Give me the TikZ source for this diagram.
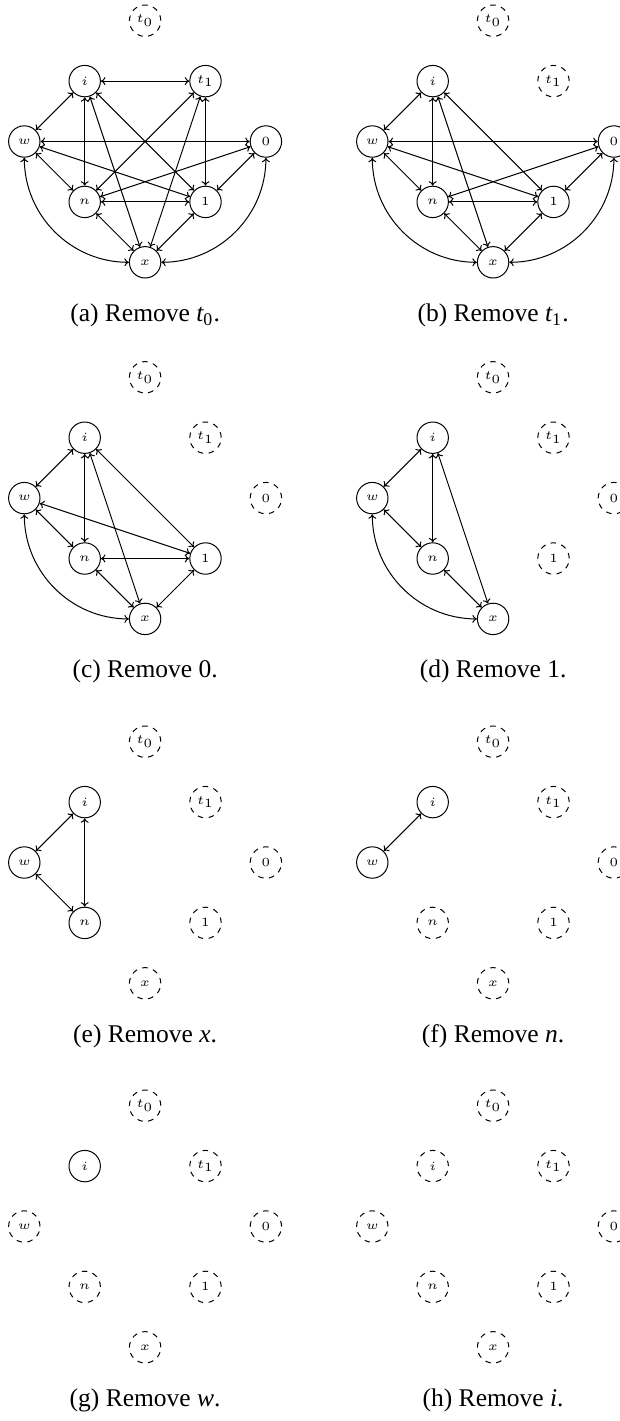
\documentclass[tikz,border=0pt]{standalone}
\usepackage{fontspec}
\setmainfont{Liberation Serif}
\usetikzlibrary{arrows.meta}
\tikzset{
  vtx/.style={circle,draw,line width=0.4pt,minimum size=12.56pt,inner sep=0pt,
    font=\fontsize{4.7}{5}\selectfont},
  gone/.style={vtx,dash pattern=on 2.2pt off 2.2pt},
  edge/.style={<->,>={To[length=1.8pt,width=3.2pt]},line width=0.4pt},
  captxt/.style={anchor=base,inner sep=0pt,font=\fontsize{10.2}{12}\selectfont},
}
\newcommand\placenodes[9]{%
  \node[#2] (#1t0) at (2,0) {$t_0$};
  \node[#3] (#1t1) at (3,1) {$t_1$};
  \node[#4] (#10) at (4,2) {$0$};
  \node[#5] (#11) at (3,3) {$1$};
  \node[#6] (#1x) at (2,4) {$x$};
  \node[#7] (#1n) at (1,3) {$n$};
  \node[#8] (#1w) at (0,2) {$w$};
  \node[#9] (#1i) at (1,1) {$i$};
}
\begin{document}
\begin{tikzpicture}[x=24.16pt,y=-24.16pt]
\useasboundingbox (0pt,0pt) rectangle (248pt,-568.4pt);

% (a)
\begin{scope}[shift={(9.72pt,-8.28pt)}]
  \placenodes{a}{gone}{vtx}{vtx}{vtx}{vtx}{vtx}{vtx}{vtx}
  \foreach \u/\v in {i/t1,i/w,i/n,i/1,i/x,t1/n,t1/x,t1/1,w/0,w/n,w/1,0/n,0/1,n/1,n/x,1/x}
    \draw[edge] (a\u) -- (a\v);
  \draw[edge] (aw) to[out=-90,in=180] (ax);
  \draw[edge] (a0) to[out=-90,in=0] (ax);
  \node[captxt] (acap) at (48.32pt,-120.24pt) {(a) Remove {\itshape t}\textsubscript{0}.};
\end{scope}

% (b)
\begin{scope}[shift={(148.92pt,-8.28pt)}]
  \placenodes{b}{gone}{gone}{vtx}{vtx}{vtx}{vtx}{vtx}{vtx}
  \foreach \u/\v in {i/w,i/n,i/1,i/x,w/0,w/n,w/1,0/n,0/1,n/1,n/x,1/x}
    \draw[edge] (b\u) -- (b\v);
  \draw[edge] (bw) to[out=-90,in=180] (bx);
  \draw[edge] (b0) to[out=-90,in=0] (bx);
  \node[captxt] (bcap) at (48.32pt,-120.24pt) {(b) Remove {\itshape t}\textsubscript{1}.};
\end{scope}

% (c)
\begin{scope}[shift={(9.72pt,-150.92pt)}]
  \placenodes{c}{gone}{gone}{gone}{vtx}{vtx}{vtx}{vtx}{vtx}
  \foreach \u/\v in {i/w,i/n,i/1,i/x,w/n,w/1,n/1,n/x,1/x}
    \draw[edge] (c\u) -- (c\v);
  \draw[edge] (cw) to[out=-90,in=180] (cx);
  \node[captxt] (ccap) at (48.32pt,-120.24pt) {(c) Remove 0.};
\end{scope}

% (d)
\begin{scope}[shift={(148.92pt,-150.92pt)}]
  \placenodes{d}{gone}{gone}{gone}{gone}{vtx}{vtx}{vtx}{vtx}
  \foreach \u/\v in {i/w,i/n,i/x,w/n,n/x}
    \draw[edge] (d\u) -- (d\v);
  \draw[edge] (dw) to[out=-90,in=180] (dx);
  \node[captxt] (dcap) at (48.32pt,-120.24pt) {(d) Remove 1.};
\end{scope}

% (e)
\begin{scope}[shift={(9.72pt,-296.68pt)}]
  \placenodes{e}{gone}{gone}{gone}{gone}{gone}{vtx}{vtx}{vtx}
  \foreach \u/\v in {i/w,i/n,w/n}
    \draw[edge] (e\u) -- (e\v);
  \node[captxt] (ecap) at (48.32pt,-120.24pt) {(e) Remove \textit{x}.};
\end{scope}

% (f)
\begin{scope}[shift={(148.92pt,-296.68pt)}]
  \placenodes{f}{gone}{gone}{gone}{gone}{gone}{gone}{vtx}{vtx}
  \draw[edge] (fi) -- (fw);
  \node[captxt] (fcap) at (48.32pt,-120.24pt) {(f) Remove \textit{n}.};
\end{scope}

% (g)
\begin{scope}[shift={(9.72pt,-442.28pt)}]
  \placenodes{g}{gone}{gone}{gone}{gone}{gone}{gone}{gone}{vtx}
  \node[captxt] (gcap) at (48.32pt,-120.24pt) {(g) Remove \textit{w}.};
\end{scope}

% (h)
\begin{scope}[shift={(148.92pt,-442.28pt)}]
  \placenodes{h}{gone}{gone}{gone}{gone}{gone}{gone}{gone}{gone}
  \node[captxt] (hcap) at (48.32pt,-120.24pt) {(h) Remove \textit{i}.};
\end{scope}
\end{tikzpicture}
\end{document}
